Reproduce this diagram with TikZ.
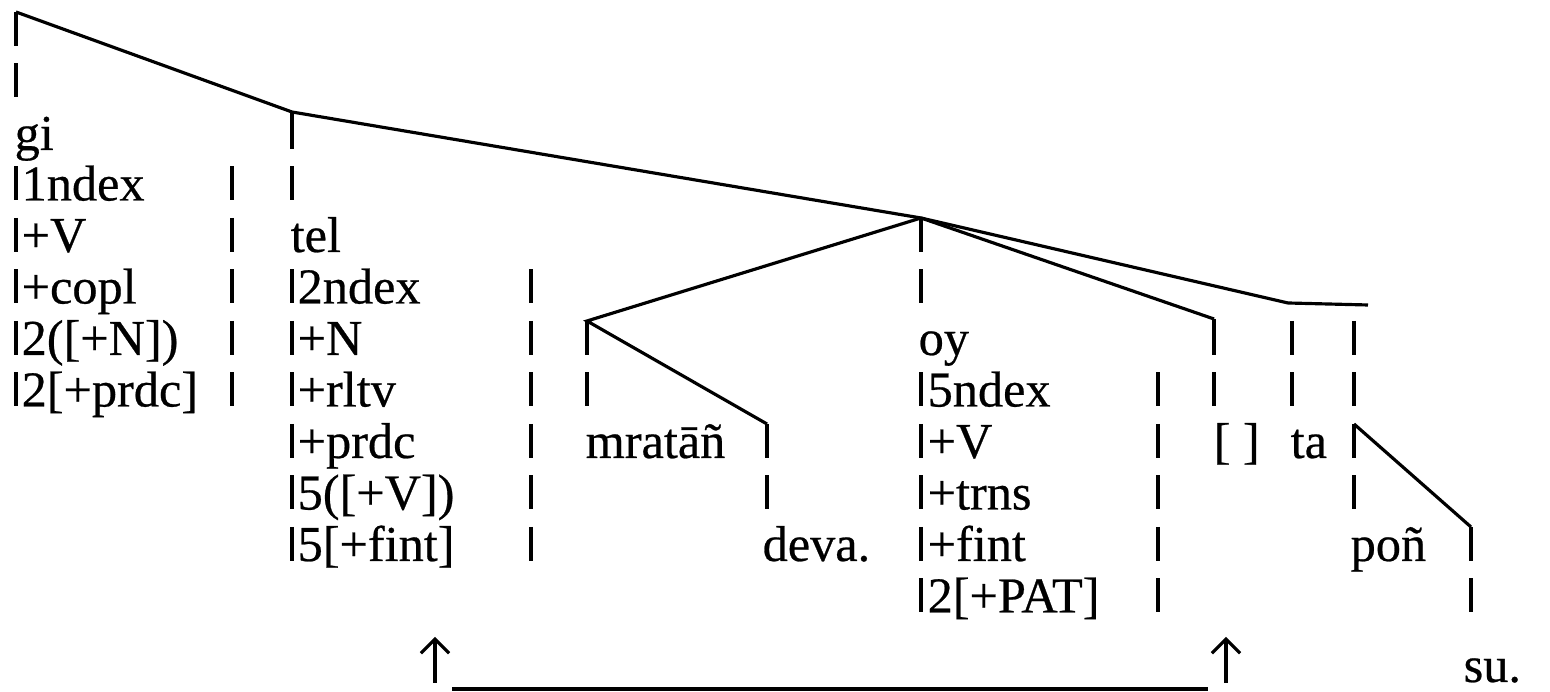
\documentclass[tikz,border=0pt]{standalone}
\usepackage{fontspec}
\setmainfont{Liberation Serif}[FakeBold=0.5]
\usetikzlibrary{arrows.meta}

\begin{document}
\begin{tikzpicture}[x=0.01cm, y=-0.01cm,
    lbl/.style={anchor=base west, inner sep=0pt, font=\fontsize{14.3}{17}\selectfont},
    bar/.style={line width=1pt},
    branch/.style={line width=0.9pt},
    uparrow/.style={line width=0.9pt, -{Straight Barb[length=4pt,width=8pt,line width=0.9pt]}}]
    \useasboundingbox (0,0) rectangle (1550,692);

    % Branch points
    \coordinate (root) at (16,12);
    \coordinate (telN) at (292,112);
    \coordinate (oyN) at (921,218);
    \coordinate (taN) at (1288,303);
    \coordinate (taE) at (1368,305);
    \coordinate (mrN) at (587,321);
    \coordinate (devN) at (767,424);
    \coordinate (brN) at (1214,319);
    \coordinate (ponN) at (1354,424);
    \coordinate (suN) at (1471,527);

    % Branches
    \draw[branch] (root) -- (telN) -- (oyN) -- (taN) -- (taE);
    \draw[branch] (oyN) -- (mrN) -- (devN);
    \draw[branch] (oyN) -- (brN);
    \draw[branch] (ponN) -- (suN);

    % Vertical bars (column / rows)
    \draw[bar] (telN) -- ++(0,37);
    \draw[bar] (brN) -- ++(0,36);
    \foreach \x/\rows in {16/{-2,-1,1,2,3,4,5}, 232/{1,2,3,4,5}, 292/{1,3,4,5,6,7,8},
        531/{3,4,5,6,7,8}, 587/{4,5}, 767/{6,7}, 921/{2,3,5,6,7,8,9},
        1158/{5,6,7,8,9}, 1214/{5}, 1292/{4,5}, 1354/{4,5,6,7}, 1471/{8,9}}
        \foreach \k in \rows
            \draw[bar] (\x,{115+51.5*\k}) -- ++(0,34);

    % Labels
    \node[lbl] (gi) at (14,150) {gi};
    \foreach \t [count=\k] in {1ndex, +V, +copl, 2([+N]), 2[+prdc]}
        \node[lbl] (gi\k) at (21,{149+51.5*\k}) {\t};
    \node[lbl] (tel) at (290,252) {tel};
    \foreach \t [count=\k from 3] in {2ndex, +N, +rltv, +prdc, 5([+V]), 5[+fint]}
        \node[lbl] (tel\k) at (297,{149+51.5*\k}) {\t};
    \node[lbl] (mr) at (585,458) {mratāñ};
    \node[lbl] (dev) at (762,561) {deva.};
    \node[lbl] (oy) at (918,355) {oy};
    \foreach \t [count=\k from 5] in {5ndex, +V, +trns, +fint, 2[+PAT]}
        \node[lbl] (oy\k) at (927,{149+51.5*\k}) {\t};
    \node[lbl] (br) at (1213,458) {[ ]};
    \node[lbl] (ta) at (1290,458) {ta};
    \node[lbl] (pon) at (1350,561) {poñ};
    \node[lbl] (su) at (1463,682) {su.};

    % Arrows
    \coordinate (arrL) at (435,683);
    \coordinate (arrLtip) at (435,637);
    \coordinate (arrR) at (1226,683);
    \coordinate (arrRtip) at (1226,637);
    \coordinate (ulL) at (452,689);
    \coordinate (ulR) at (1208,689);
    \draw[uparrow] (arrL) -- (arrLtip);
    \draw[uparrow] (arrR) -- (arrRtip);
    \draw[line width=1.2pt] (ulL) -- (ulR);
\end{tikzpicture}
\end{document}
